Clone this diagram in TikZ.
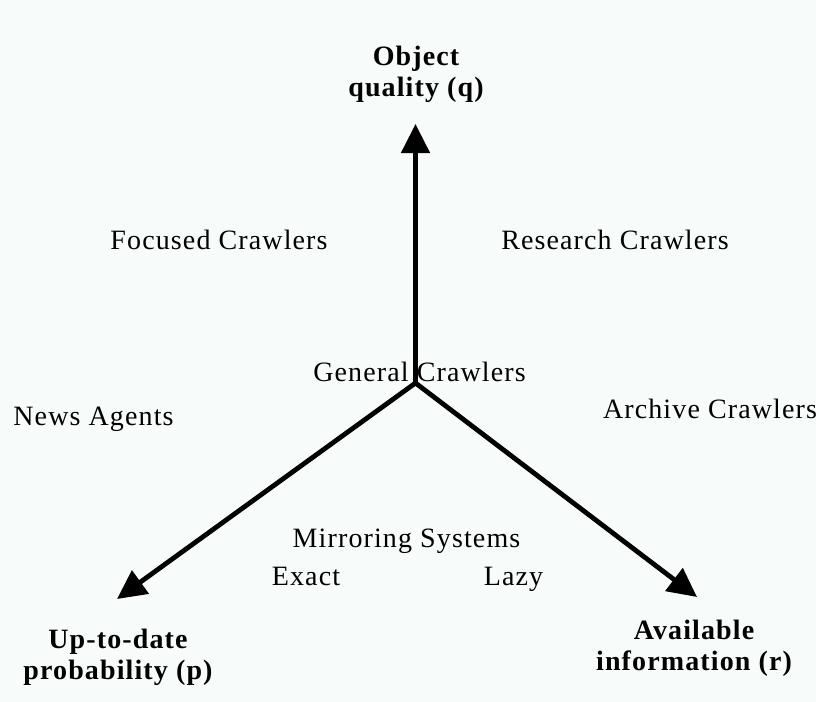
\documentclass[tikz,border=0pt]{standalone}
\usepackage{fontspec}
\setmainfont{Liberation Serif}[LetterSpace=4]
\usetikzlibrary{arrows.meta}
\definecolor{bg}{RGB}{247,251,249}
\begin{document}
\begin{tikzpicture}[x=1bp,y=-1bp,
  lbl/.style={font=\fontsize{28bp}{31bp}\selectfont, inner sep=0pt, anchor=base},
  axislbl/.style={font=\fontsize{28bp}{31bp}\selectfont\bfseries, inner sep=0pt, align=center},
  axisline/.style={line width=4.8bp, line cap=round, -{Triangle[length=29bp,width=28bp]}}]
\fill[bg] (0,0) rectangle (816,702);
\useasboundingbox (0,0) rectangle (816,702);
\coordinate (o) at (415.5,383);
\coordinate (q) at (415.5,124);
\coordinate (p) at (117,599);
\coordinate (r) at (697,597);
\node[lbl] (focused) at (219,249) {Focused Crawlers};
\node[lbl] (research) at (615,249) {Research Crawlers};
\node[lbl] (general) at (419.5,381) {General Crawlers};
\node[lbl] (news) at (93.5,425) {News Agents};
\node[lbl] (archive) at (710,418) {Archive Crawlers};
\node[lbl] (mirror) at (406.5,547) {Mirroring Systems};
\node[lbl] (exact) at (306,585) {Exact};
\node[lbl] (lazy) at (513.5,585) {Lazy};
\node[axislbl] (qlabel) at (416,74) {Object\\quality (q)};
\node[axislbl] (plabel) at (118,657) {Up-to-date\\probability (p)};
\node[axislbl] (rlabel) at (694,648.5) {Available\\information (r)};
\draw[axisline] (o) -- (q);
\draw[axisline] (o) -- (p);
\draw[axisline] (o) -- (r);
\end{tikzpicture}
\end{document}
